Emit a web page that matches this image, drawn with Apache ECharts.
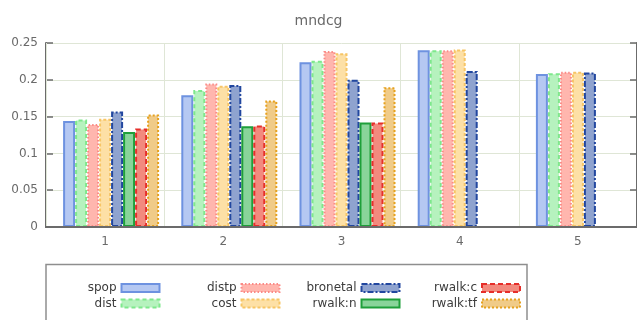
<!DOCTYPE html>
<html><head><meta charset="utf-8">
<script src="https://cdn.jsdelivr.net/npm/echarts@6/dist/echarts.min.js"></script>
<style>html,body{margin:0;padding:0;background:#fff}#c{width:637px;height:320px}</style>
</head><body><div id="c"></div>
<script>
const title = 'mndcg';
const categories = ['1','2','3','4','5'];
const seriesNames = ['spop','dist','distp','cost','bronetal','rwalk:n','rwalk:c','rwalk:tf'];
const spop     = [0.144, 0.179, 0.224, 0.240, 0.208];
const dist     = [0.146, 0.186, 0.226, 0.240, 0.209];
const distp    = [0.140, 0.195, 0.239, 0.240, 0.211];
const cost     = [0.147, 0.192, 0.236, 0.241, 0.211];
const bronetal = [0.157, 0.193, 0.200, 0.212, 0.210];
const rwalkN   = [0.129, 0.137, 0.142, null, null];
const rwalkC   = [0.134, 0.138, 0.142, null, null];
const rwalkTf  = [0.153, 0.172, 0.190, null, null];
const yTicks = [0, 0.05, 0.1, 0.15, 0.2, 0.25];

const values = [spop, dist, distp, cost, bronetal, rwalkN, rwalkC, rwalkTf];
const styles = [
  {fill:'#b5c8f2', border:'#6e92e0', type:'solid'},
  {fill:'#b6f2be', border:'#7ee88c', type:[4,3]},
  {fill:'#ffb6ae', border:'#fb8a86', type:[1.5,2]},
  {fill:'#fde0a6', border:'#f7c565', type:[3,2]},
  {fill:'#8fa3cf', border:'#22479f', type:[6,2,2,2]},
  {fill:'#89d49a', border:'#1e9f3a', type:'solid'},
  {fill:'#f28a7e', border:'#e62e2a', type:[5,3]},
  {fill:'#f0cb88', border:'#e6a11e', type:[2,2]}
];

const chart = echarts.init(document.getElementById('c'), null, {renderer:'canvas'});
const series = [{name:'_pad', type:'bar', data: categories.map(()=>null), barWidth:12, barGap:'0%', silent:true}];
seriesNames.forEach((n,i)=>{
  series.push({
    name:n, type:'bar', data: values[i], barWidth:12, barGap:'0%',
    itemStyle:{color:styles[i].fill, borderColor:styles[i].border, borderWidth:2, borderType:styles[i].type},
    emphasis:{disabled:true}
  });
});
const axisLineStyle = {color:'#6b6b6b', width:2};
const gridColor = '#dfe6d6';
const legendCols = [[0,1],[2,3],[4,5],[6,7]];
const legendRight = [160.5, 280.5, 400.5, 521];
const legends = legendCols.map((col,ci)=>({
  orient:'vertical', align:'right', right: 637 - legendRight[ci], top: 282,
  itemWidth:38, itemHeight:8, itemGap:3.5, padding:0, selectedMode:false,
  textStyle:{fontFamily:'DejaVu Sans', fontSize:12, color:'#3c3c3c', padding:[0,0,0,0]},
  data: col.map(k=>({name:seriesNames[k], icon:'rect',
    itemStyle:{color:styles[k].fill, borderColor:styles[k].border, borderWidth:2, borderType:styles[k].type}}))
}));
chart.setOption({
  animation:false,
  title:{text:title, left:'center', top:9, textStyle:{fontFamily:'DejaVu Sans', fontSize:14, fontWeight:'normal', color:'#6a6a6a'}},
  grid:{left:46, top:43, width:597, height:184},
  legend: legends,
  xAxis:[
    {type:'category', data:categories, position:'bottom', z:5,
     axisLine:{lineStyle:axisLineStyle}, axisTick:{inside:true, length:7, alignWithLabel:true, lineStyle:{color:'#6b6b6b', width:1.5}},
     axisLabel:{fontFamily:'DejaVu Sans', fontSize:12, color:'#6a6a6a', margin:9},
     splitLine:{show:true, interval:0, lineStyle:{color:gridColor, width:1}}},
    {type:'category', data:categories, position:'top', z:5,
     axisLine:{lineStyle:axisLineStyle}, axisTick:{inside:true, length:7, alignWithLabel:true, lineStyle:{color:'#6b6b6b', width:1.5}},
     axisLabel:{show:false}, splitLine:{show:false}}
  ],
  yAxis:[
    {type:'value', min:yTicks[0], max:yTicks[yTicks.length-1], interval:0.05, position:'left',
     axisLine:{show:true, lineStyle:axisLineStyle}, axisTick:{show:true, inside:true, length:7, lineStyle:{color:'#6b6b6b', width:1.5}},
     axisLabel:{fontFamily:'DejaVu Sans', fontSize:12, color:'#6a6a6a', margin:8, formatter:v=>String(+v.toFixed(2))},
     splitLine:{show:true, lineStyle:{color:gridColor, width:1}}},
    {type:'value', min:yTicks[0], max:yTicks[yTicks.length-1], interval:0.05, position:'right',
     axisLine:{show:true, lineStyle:axisLineStyle}, axisTick:{show:true, inside:true, length:7, lineStyle:{color:'#6b6b6b', width:1.5}},
     axisLabel:{show:false}, splitLine:{show:false}}
  ],
  graphic:[{type:'rect', shape:{x:46, y:264.5, width:481, height:80}, style:{fill:'none', stroke:'#8e8e8e', lineWidth:1.5}, z:-1}],
  series: series
});
</script></body></html>
